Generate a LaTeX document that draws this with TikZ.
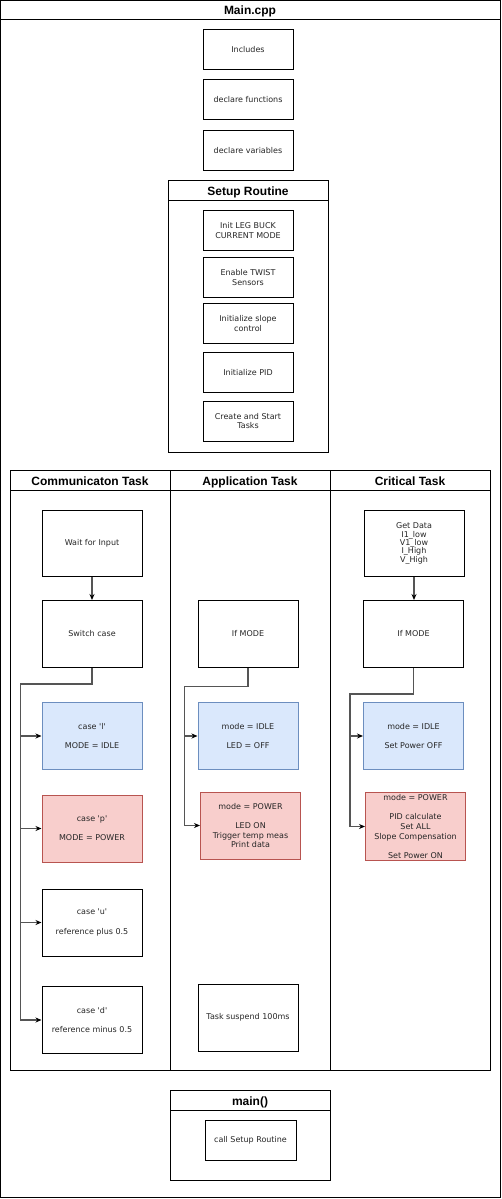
\documentclass[tikz,border=0pt]{standalone}
\usepackage{fontspec}
\setmainfont{DejaVu Sans}
\newfontfamily\titlefont{Liberation Sans}
\usetikzlibrary{arrows.meta}
\definecolor{bluefill}{HTML}{DAE8FC}
\definecolor{bluedraw}{HTML}{6C8EBF}
\definecolor{redfill}{HTML}{F8CECC}
\definecolor{reddraw}{HTML}{B85450}
\definecolor{connc}{HTML}{555555}
\newcommand{\sq}{\textquotesingle}
\tikzset{
  box/.style={draw=black, line width=1pt, fill=white, align=center, inner sep=1pt,
    font=\fontsize{8}{9.6}\selectfont, text=black!85},
  smallbox/.style={box, minimum width=90pt, minimum height=40pt},
  bigbox/.style={box, minimum width=100pt, minimum height=67pt},
  bluebox/.style={bigbox, fill=bluefill, draw=bluedraw},
  redbox/.style={bigbox, fill=redfill, draw=reddraw},
  frame/.style={draw=black, line width=1pt},
  title/.style={font=\titlefont\bfseries\fontsize{12}{14}\selectfont, inner sep=0pt, anchor=base},
  conn/.style={draw=connc, line width=1.3pt, -{Stealth[length=6pt,width=5pt,color=black]}},
}
\begin{document}
\begin{tikzpicture}[x=1pt,y=-1pt]
\useasboundingbox (0,0) rectangle (502,1199);
% Main.cpp frame
\draw[frame] (0.5,0.5) rectangle (500.5,1197);
\draw[frame] (0.5,20) -- (500.5,20);
\node[title] (tmain) at (250,15) {Main.cpp};
% top boxes
\node[smallbox] (inc) at (248,49.5) {Includes};
\node[smallbox] (decf) at (248,99.5) {declare functions};
\node[smallbox] (decv) at (248,150.5) {declare variables};
% Setup routine
\draw[frame] (168,180) rectangle (328,452);
\draw[frame] (168,200) -- (328,200);
\node[title] (tsetup) at (248,195) {Setup Routine};
\node[smallbox] (s1) at (248,230.5) {Init LEG BUCK\\CURRENT MODE};
\node[smallbox] (s2) at (248,277.5) {Enable TWIST\\Sensors};
\node[smallbox] (s3) at (248,323.5) {Initialize slope\\control};
\node[smallbox] (s4) at (248,372.5) {Initialize PID};
\node[smallbox] (s5) at (248,421) {Create and Start\\Tasks};
% Task lanes
\draw[frame] (10,470) rectangle (490,1070);
\draw[frame] (10,490) -- (490,490);
\draw[frame] (170,470) -- (170,1070);
\draw[frame] (330,470) -- (330,1070);
\node[title] (tcomm) at (90,485) {Communicaton Task};
\node[title] (tapp) at (250,485) {Application Task};
\node[title] (tcrit) at (410,485) {Critical Task};
% Communication lane
\node[bigbox, minimum height=66pt] (wait) at (92,543.5) {Wait for Input};
\node[bigbox] (switch) at (92,634) {Switch case};
\node[bluebox] (cl) at (92,736) {case \sq l\sq\\[9.6pt]MODE = IDLE};
\node[redbox] (cp) at (92,828.5) {case \sq p\sq\\[9.6pt]MODE = POWER};
\node[bigbox] (cu) at (92,922.5) {case \sq u\sq\\[9.6pt]reference plus 0.5};
\node[bigbox] (cd) at (92,1020) {case \sq d\sq\\[9.6pt]reference minus 0.5};
\coordinate (cj) at (20.5,684);
\draw[conn] (wait.south) -- (switch.north);
\draw[conn] (switch.south) |- (cj) |- (cl.west);
\draw[conn] (switch.south) |- (cj) |- (cp.west);
\draw[conn] (switch.south) |- (cj) |- (cu.west);
\draw[conn] (switch.south) |- (cj) |- (cd.west);
% Application lane
\node[bigbox] (aif) at (248,634) {If MODE};
\node[bluebox] (aidle) at (248,736) {mode = IDLE\\[9.6pt]LED = OFF};
\node[redbox] (apow) at (250.5,825.5) {mode = POWER\\[9.6pt]LED ON\\Trigger temp meas\\Print data};
\node[bigbox] (asusp) at (248,1017.5) {Task suspend 100ms};
\coordinate (aj) at (184.5,686.5);
\draw[conn] (aif.south) |- (aj) |- (aidle.west);
\draw[conn] (aif.south) |- (aj) |- (apow.west);
% Critical lane
\node[bigbox, minimum height=66pt, font=\fontsize{8}{8.4}\selectfont] (getd) at (414,543.5) {Get Data\\I1\_low\\V1\_low\\ I\_High\\V\_High};
\node[bigbox] (cif) at (413.5,634) {If MODE};
\node[bluebox] (cidle) at (413.5,736) {mode = IDLE\\[9.6pt]Set Power OFF};
\node[redbox, minimum height=68pt] (cpow) at (415.5,826.5) {mode = POWER\\[9.6pt]PID calculate\\Set ALL\\Slope Compensation\\[9.6pt]Set Power ON};
\coordinate (crj) at (350,694);
\draw[conn] (getd.south) -- (getd.south |- cif.north);
\draw[conn] (cif.south) |- (crj) |- (cidle.west);
\draw[conn] (cif.south) |- (crj) |- (cpow.west);
% main()
\draw[frame] (170,1090) rectangle (330.5,1180);
\draw[frame] (170,1110.5) -- (330.5,1110.5);
\node[title] (tmainf) at (250,1105) {main()};
\node[smallbox, minimum width=91pt] (call) at (250.5,1140.5) {call Setup Routine};
\end{tikzpicture}
\end{document}
